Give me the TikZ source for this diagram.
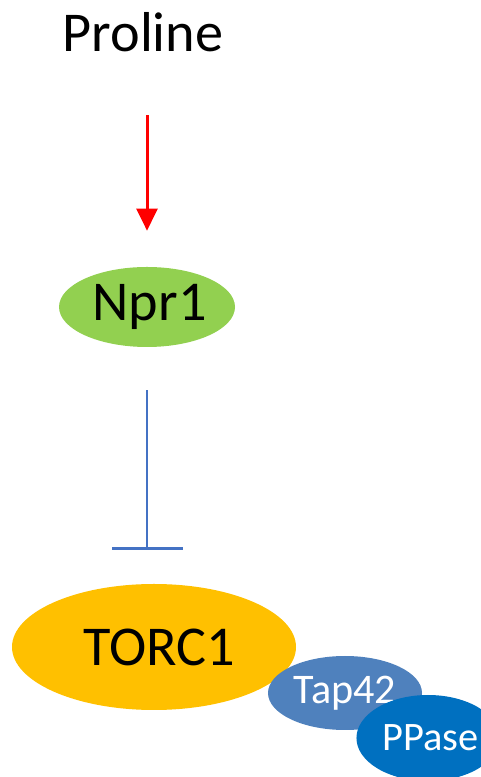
\documentclass[tikz,border=0pt]{standalone}
\usepackage{fontspec}
\setmainfont{Carlito}
\usetikzlibrary{arrows.meta, shapes.geometric}
\definecolor{nprgreen}{HTML}{92D050}
\definecolor{torcyellow}{HTML}{FFC000}
\definecolor{tapblue}{HTML}{4F81BD}
\definecolor{ppblue}{HTML}{0070C0}
\definecolor{inhblue}{HTML}{4472C4}

\begin{document}
\begin{tikzpicture}[
    big/.style = {font=\fontsize{32}{38}\selectfont},
    prot/.style = {ellipse, inner sep=0pt, big},
    small/.style = {prot, text=white, font=\fontsize{24}{29}\selectfont},
  ]
  \useasboundingbox (0,0) rectangle (9.62,15.54);
  \clip (0,0) rectangle (9.62,15.54);

  \node[big, inner sep=0pt] (proline) at (2.86,14.9) {Proline};
  \node[prot, fill=nprgreen, minimum width=3.52cm, minimum height=1.6cm] (npr1) at (2.94,9.4) {\hspace{0.1cm}Npr1};
  \node[prot, fill=torcyellow, minimum width=5.68cm, minimum height=2.52cm] (torc1) at (3.08,2.6) {\hspace{0.2cm}TORC1};
  \node[small, fill=tapblue, minimum width=3.08cm, minimum height=1.48cm] (tap42) at (6.9,1.68) {Tap42};
  \node[small, fill=ppblue, minimum width=2.48cm, minimum height=1.72cm,
        font=\fontsize{23}{28}\selectfont] (ppase) at (8.56,0.78) {\hspace{0.1cm}PPase};

  \draw[-{Triangle[width=0.42cm,length=0.44cm]}, red, line width=0.06cm,
        shorten <=1.26cm, shorten >=0.72cm] (proline.south -| npr1) -- (npr1);
  % inhibition
  \draw[-{Bar[width=1.42cm]}, inhblue, line width=0.055cm,
        shorten <=0.86cm, shorten >=0.68cm] (npr1) -- (npr1 |- torc1.north);
\end{tikzpicture}
\end{document}
